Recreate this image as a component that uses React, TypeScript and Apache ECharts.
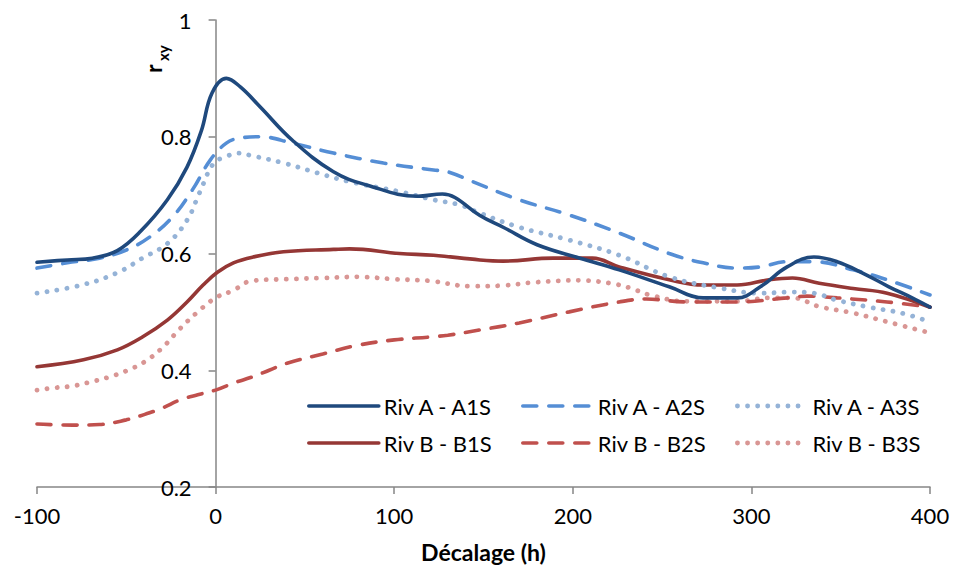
import React, { useEffect, useRef } from "react";
import * as echarts from "echarts";

const xTicks = { min: -100, max: 400, interval: 100 };
const yTicks = { min: 0.2, max: 1, interval: 0.2 };

const a1s: [number, number][] = [[-100,0.585],[-83,0.589],[-69,0.592],[-55,0.605],[-42,0.638],[-27,0.692],[-16,0.748],[-8,0.81],[-2,0.875],[6,0.9],[14,0.885],[25,0.851],[43,0.794],[66,0.74],[85,0.717],[113,0.698],[127,0.702],[134,0.696],[148,0.665],[161,0.645],[180,0.615],[204,0.592],[226,0.572],[254,0.543],[273,0.524],[292,0.524],[305,0.543],[320,0.577],[335,0.594],[348,0.586],[362,0.567],[377,0.543],[390,0.524],[400,0.508]];
const a2s: [number, number][] = [[-100,0.575],[-83,0.584],[-65,0.592],[-50,0.606],[-37,0.628],[-24,0.663],[-13,0.709],[-3,0.76],[6,0.789],[14,0.798],[25,0.8],[43,0.789],[66,0.772],[94,0.755],[122,0.743],[130,0.74],[144,0.723],[170,0.692],[198,0.666],[226,0.635],[254,0.6],[273,0.584],[292,0.575],[305,0.577],[320,0.586],[335,0.586],[357,0.572],[376,0.555],[400,0.529]];
const a3s: [number, number][] = [[-100,0.532],[-75,0.546],[-55,0.567],[-41,0.592],[-27,0.617],[-16,0.657],[-9,0.704],[-1,0.755],[6,0.766],[12,0.772],[21,0.767],[38,0.755],[57,0.738],[75,0.723],[103,0.706],[122,0.692],[137,0.683],[148,0.669],[170,0.645],[198,0.623],[226,0.597],[254,0.56],[282,0.541],[305,0.532],[323,0.534],[335,0.532],[348,0.52],[366,0.508],[384,0.498],[400,0.483]];
const b1s: [number, number][] = [[-100,0.406],[-74,0.418],[-55,0.435],[-41,0.457],[-27,0.486],[-16,0.517],[-7,0.546],[1,0.568],[10,0.584],[21,0.594],[38,0.603],[66,0.607],[75,0.608],[103,0.6],[122,0.597],[148,0.589],[161,0.587],[189,0.592],[211,0.592],[226,0.577],[254,0.555],[273,0.546],[292,0.546],[310,0.555],[323,0.558],[338,0.549],[357,0.54],[376,0.532],[400,0.508]];
const b2s: [number, number][] = [[-100,0.308],[-80,0.306],[-65,0.307],[-50,0.315],[-40,0.324],[-30,0.335],[-20,0.349],[-10,0.358],[0,0.366],[10,0.378],[20,0.388],[30,0.4],[40,0.412],[60,0.428],[80,0.443],[100,0.452],[120,0.457],[130,0.46],[148,0.469],[170,0.481],[198,0.5],[226,0.517],[241,0.522],[264,0.517],[292,0.517],[320,0.524],[331,0.527],[348,0.524],[376,0.517],[400,0.508]];
const b3s: [number, number][] = [[-100,0.366],[-90,0.37],[-80,0.373],[-70,0.38],[-60,0.388],[-50,0.399],[-40,0.414],[-30,0.438],[-20,0.471],[-10,0.5],[0,0.524],[10,0.537],[20,0.553],[40,0.556],[60,0.558],[80,0.56],[100,0.556],[120,0.553],[143,0.544],[160,0.545],[180,0.551],[204,0.554],[221,0.549],[232,0.541],[243,0.529],[264,0.518],[292,0.518],[310,0.524],[323,0.524],[338,0.509],[357,0.498],[376,0.483],[400,0.464]];

const names = ["Riv A - A1S", "Riv A - A2S", "Riv A - A3S", "Riv B - B1S", "Riv B - B2S", "Riv B - B3S"];
const colors = ["#1F497D", "#558ED5", "#95B3D7", "#953735", "#C0504D", "#D99694"];

const FONT = "Lato, 'Open Sans', sans-serif";

export default function App() {
  const ref = useRef<HTMLDivElement>(null);
  useEffect(() => {
    document.body.style.margin = "0";
    if (!ref.current) return;
    const chart = echarts.init(ref.current, null, { renderer: "svg" });
    const gridLeft = 37;
    const gridRight = 24;
    const plotW = 954 - gridLeft - gridRight;
    const zeroOffset = (plotW * (0 - xTicks.min)) / (xTicks.max - xTicks.min);
    const styles: any[] = [
      { type: "solid", cap: "round", width: 3.6 },
      { type: [14, 12], cap: "round", width: 3.6 },
      { type: [0.1, 10], cap: "round", width: 4.8 },
      { type: "solid", cap: "round", width: 3.6 },
      { type: [14, 12], cap: "round", width: 3.6 },
      { type: [0.1, 10], cap: "round", width: 4.8 },
    ];
    const lineStyleOf = (i: number) => ({ color: colors[i], width: styles[i].width, type: styles[i].type, cap: styles[i].cap });
    const datasets = [a1s, a2s, a3s, b1s, b2s, b3s];
    const series = datasets.map((d, i) => ({
      name: names[i],
      type: "line",
      data: d,
      smooth: 0.4,
      symbol: "none",
      color: colors[i],
      lineStyle: lineStyleOf(i),
      z: 10 - i,
    }));
    const legendItem = (i: number) => ({ name: names[i], lineStyle: lineStyleOf(i), itemStyle: { opacity: 0 } });
    const legendBase = {
      orient: "vertical",
      top: 395,
      itemWidth: 70,
      itemHeight: 14,
      itemGap: 15,
      padding: 0,
      itemStyle: { opacity: 0 },
      textStyle: { fontSize: 22, color: "#000", fontFamily: FONT, lineHeight: 22 },
    };
    chart.setOption({
      animation: false,
      textStyle: { fontFamily: FONT },
      grid: { left: gridLeft, right: gridRight, top: 20, bottom: 82, containLabel: false, outerBoundsMode: "none" },
      legend: [
        { ...legendBase, left: 307, data: [legendItem(0), legendItem(3)] },
        { ...legendBase, left: 521, data: [legendItem(1), legendItem(4)] },
        { ...legendBase, left: 735, data: [legendItem(2), legendItem(5)] },
      ],
      xAxis: {
        type: "value",
        min: xTicks.min,
        max: xTicks.max,
        interval: xTicks.interval,
        name: "Décalage (h)",
        nameLocation: "middle",
        nameGap: 53,
        nameTextStyle: { fontSize: 23, fontWeight: "bold", color: "#000", fontFamily: FONT },
        axisLine: { onZero: false, lineStyle: { color: "#868686", width: 1.5 } },
        axisTick: { show: true, length: 7, lineStyle: { color: "#868686", width: 1.5 } },
        axisLabel: { fontSize: 22, color: "#000", margin: 17, fontFamily: FONT },
        splitLine: { show: false },
      },
      yAxis: {
        type: "value",
        min: yTicks.min,
        max: yTicks.max,
        interval: yTicks.interval,
        offset: -zeroOffset,
        axisLine: { show: true, onZero: false, lineStyle: { color: "#868686", width: 1.5 } },
        axisTick: { show: true, length: 7, lineStyle: { color: "#868686", width: 1.5 } },
        axisLabel: { fontSize: 22, color: "#000", margin: 24, fontFamily: FONT },
        splitLine: { show: false },
      },
      graphic: [
        { type: "text", x: 164, y: 73, rotation: Math.PI / 2, style: { text: "r", fontSize: 23, fontWeight: "bold", fill: "#000", fontFamily: FONT, align: "left", verticalAlign: "bottom" } },
        { type: "text", x: 170, y: 61, rotation: Math.PI / 2, style: { text: "xy", fontSize: 15, fontWeight: "bold", fill: "#000", fontFamily: FONT, align: "left", verticalAlign: "bottom" } },
      ],
      series,
    });
    return () => chart.dispose();
  }, []);
  return <div ref={ref} style={{ width: 954, height: 569 }} />;
}
